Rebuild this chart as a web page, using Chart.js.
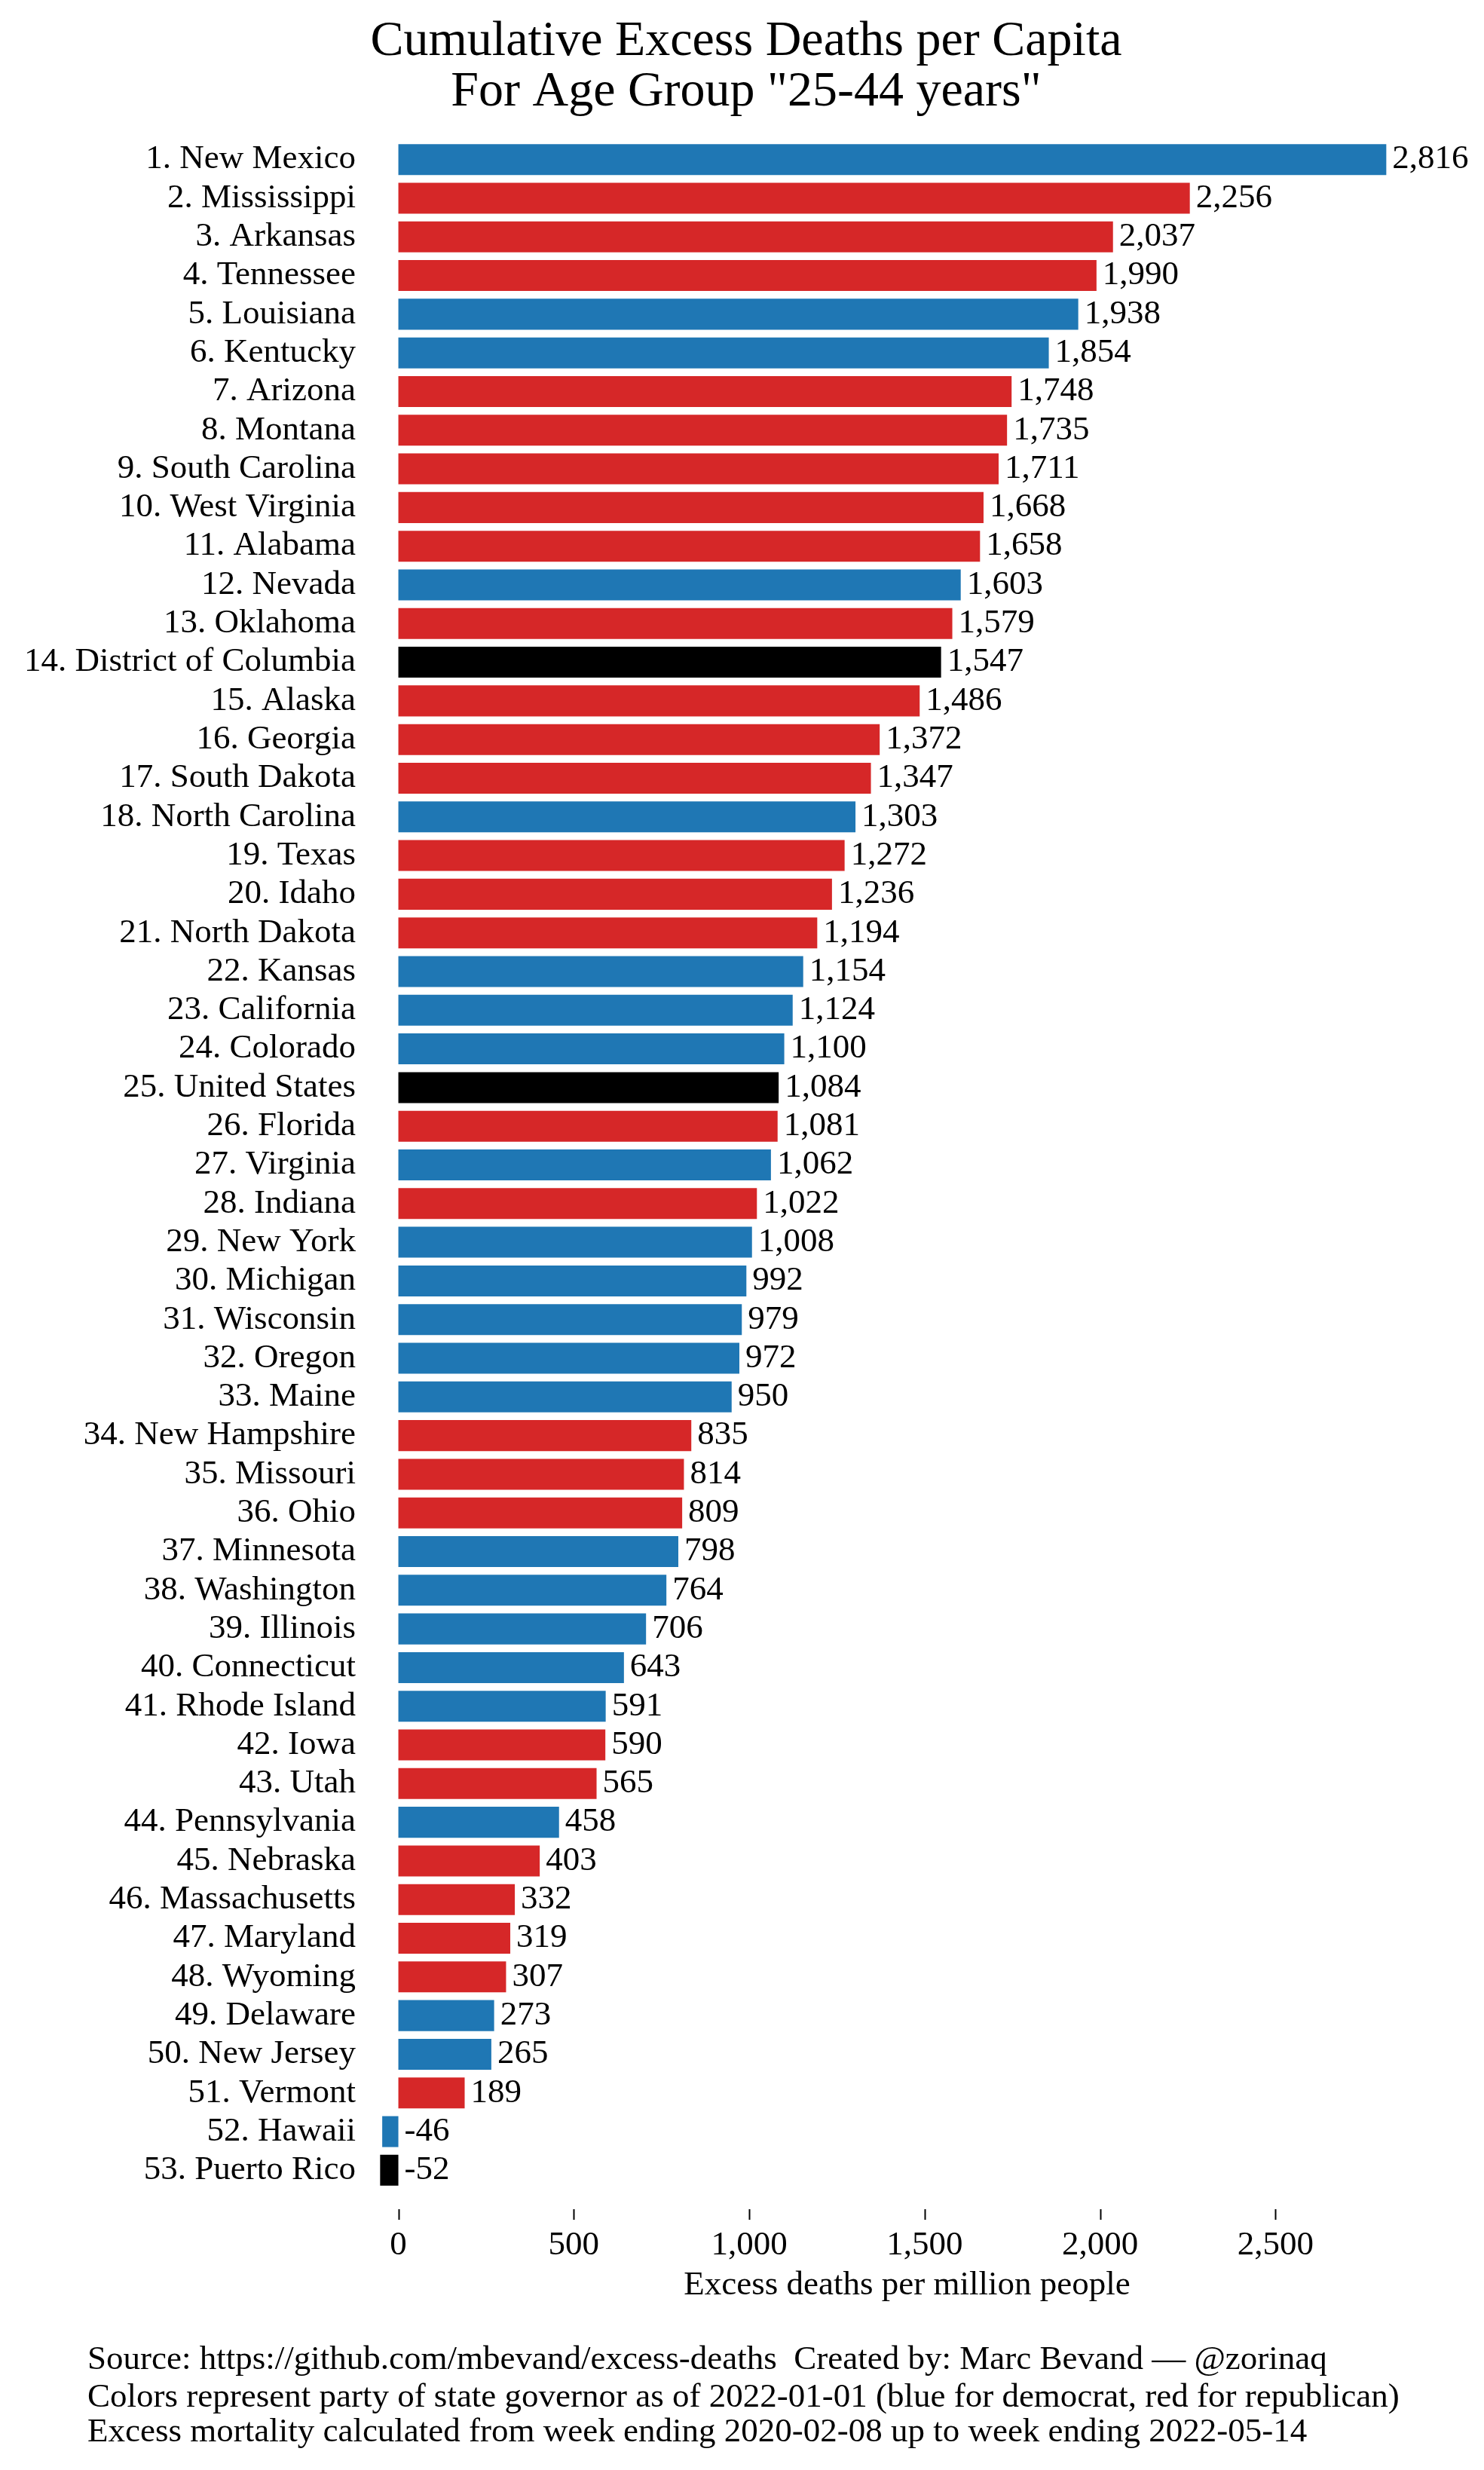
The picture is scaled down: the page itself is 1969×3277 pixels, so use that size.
<!DOCTYPE html>
<html>
<head>
<meta charset="utf-8">
<script src="https://cdn.jsdelivr.net/npm/chart.js@4/dist/chart.umd.min.js"></script>
<style>
  html, body { margin: 0; padding: 0; background: #fff; }
  canvas { display: block; }
</style>
</head>
<body>
<canvas id="myChart" width="1969" height="3277"></canvas>
<script>
let states = ['New Mexico', 'Mississippi', 'Arkansas', 'Tennessee', 'Louisiana', 'Kentucky', 'Arizona',
  'Montana', 'South Carolina', 'West Virginia', 'Alabama', 'Nevada', 'Oklahoma', 'District of Columbia',
  'Alaska', 'Georgia', 'South Dakota', 'North Carolina', 'Texas', 'Idaho', 'North Dakota', 'Kansas',
  'California', 'Colorado', 'United States', 'Florida', 'Virginia', 'Indiana', 'New York', 'Michigan',
  'Wisconsin', 'Oregon', 'Maine', 'New Hampshire', 'Missouri', 'Ohio', 'Minnesota', 'Washington',
  'Illinois', 'Connecticut', 'Rhode Island', 'Iowa', 'Utah', 'Pennsylvania', 'Nebraska', 'Massachusetts',
  'Maryland', 'Wyoming', 'Delaware', 'New Jersey', 'Vermont', 'Hawaii', 'Puerto Rico'];

let excessDeaths = [2816, 2256, 2037, 1990, 1938, 1854, 1748, 1735, 1711, 1668, 1658, 1603, 1579, 1547,
  1486, 1372, 1347, 1303, 1272, 1236, 1194, 1154, 1124, 1100, 1084, 1081, 1062, 1022, 1008, 992,
  979, 972, 950, 835, 814, 809, 798, 764, 706, 643, 591, 590, 565, 458, 403, 332,
  319, 307, 273, 265, 189, -46, -52];

// D = democrat governor, R = republican, X = no state governor
let party = ['D', 'R', 'R', 'R', 'D', 'D', 'R', 'R', 'R', 'R', 'R', 'D', 'R', 'X',
  'R', 'R', 'R', 'D', 'R', 'R', 'R', 'D', 'D', 'D', 'X', 'R', 'D', 'R', 'D', 'D',
  'D', 'D', 'D', 'R', 'R', 'R', 'D', 'D', 'D', 'D', 'D', 'R', 'R', 'D', 'R', 'R',
  'R', 'R', 'D', 'D', 'R', 'D', 'X'];

let xTicks = [0, 500, 1000, 1500, 2000, 2500];

let partyColors = { D: '#1f77b4', R: '#d62728', X: '#000000' };
let labels = states.map((s, i) => (i + 1) + '. ' + s);
let fmt = v => v.toLocaleString('en-US');

let serif = '"Liberation Serif", "DejaVu Serif", serif';
let textSize = 45;

let footerLines = [
  'Source: https://github.com/mbevand/excess-deaths  Created by: Marc Bevand \u2014 @zorinaq',
  'Colors represent party of state governor as of 2022-01-01 (blue for democrat, red for republican)',
  'Excess mortality calculated from week ending 2020-02-08 up to week ending 2022-05-14'
];

// value labels, x tick marks and the footer notes
let extras = {
  id: 'extras',
  afterLayout(chart) {
    // figure title is centred on the whole figure, not the padded box
    if (chart.titleBlock) {
      chart.titleBlock.left = 0;
      chart.titleBlock.right = 1980;
    }
  },
  afterDatasetsDraw(chart) {
    let ctx = chart.ctx;
    let xs = chart.scales.x;
    let meta = chart.getDatasetMeta(0);
    ctx.save();
    ctx.font = textSize + 'px ' + serif;
    ctx.fillStyle = '#000';
    ctx.textBaseline = 'middle';
    ctx.textAlign = 'left';
    meta.data.forEach((bar, i) => {
      let v = excessDeaths[i];
      ctx.fillText(fmt(v), xs.getPixelForValue(Math.max(v, 0)) + 8, bar.y);
    });

    ctx.strokeStyle = '#000';
    ctx.lineWidth = 2;
    let y0 = chart.chartArea.bottom + 26;
    xTicks.forEach(t => {
      let x = Math.round(xs.getPixelForValue(t)) + 0.5;
      ctx.beginPath();
      ctx.moveTo(x, y0);
      ctx.lineTo(x, y0 + 14);
      ctx.stroke();
    });

    let ys = [3131, 3181, 3227];
    footerLines.forEach((line, i) => ctx.fillText(line, 116, ys[i]));
    ctx.restore();
  }
};

let chart = new Chart(document.getElementById('myChart').getContext('2d'), {
  type: 'bar',
  data: {
    labels: labels,
    datasets: [{
      data: excessDeaths,
      backgroundColor: party.map(p => partyColors[p]),
      borderWidth: 0,
      categoryPercentage: 1.0,
      barPercentage: 0.8
    }]
  },
  options: {
    indexAxis: 'y',
    responsive: false,
    animation: false,
    devicePixelRatio: 1,
    layout: { padding: { left: 0, right: 44, top: 0, bottom: 218 } },
    plugins: {
      legend: { display: false },
      tooltip: { enabled: false },
      title: {
        display: true,
        text: ['Cumulative Excess Deaths per Capita', 'For Age Group "25-44 years"'],
        color: '#000',
        font: { family: serif, size: 66, weight: 'normal', lineHeight: 67 / 66 },
        padding: { top: 22, bottom: 30 }
      }
    },
    scales: {
      x: {
        min: -100,
        max: 3000,
        afterBuildTicks: s => { s.ticks = xTicks.map(v => ({ value: v })); },
        afterFit: s => { s.height = 154; },
        grid: { display: false, drawTicks: false },
        border: { display: false },
        ticks: {
          color: '#000',
          padding: 47,
          font: { family: serif, size: textSize },
          callback: v => fmt(v)
        },
        title: {
          display: true,
          text: 'Excess deaths per million people',
          color: '#000',
          padding: 0,
          font: { family: serif, size: textSize }
        }
      },
      y: {
        afterFit: s => { s.width = 482; },
        grid: { display: false, drawTicks: false },
        border: { display: false },
        ticks: {
          color: '#000',
          padding: 10,
          autoSkip: false,
          font: { family: serif, size: textSize }
        }
      }
    }
  },
  plugins: [extras]
});
</script>
</body>
</html>
